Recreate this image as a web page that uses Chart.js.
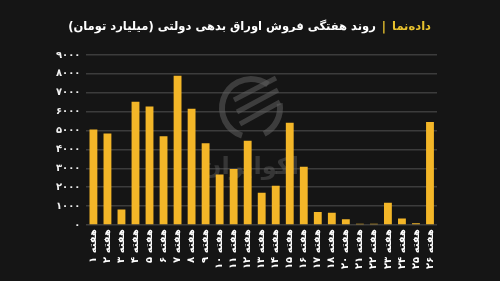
<!DOCTYPE html>
<html>
<head>
<meta charset="utf-8">
<script src="https://cdn.jsdelivr.net/npm/chart.js@4"></script>
<style>
html,body{margin:0;padding:0;background:#151515;}
#wrap{width:500px;height:281px;position:relative;}
</style>
</head>
<body>
<div id="wrap"><canvas id="c" width="500" height="281"></canvas></div>
<script>
const weeks = ['۱','۲','۳','۴','۵','۶','۷','۸','۹','۱۰','۱۱','۱۲','۱۳','۱۴','۱۵','۱۶','۱۷','۱۸','۲۰','۲۱','۲۲','۲۳','۲۴','۲۵','۲۶'];
const categories = weeks.map(w => 'هفته ' + w);
const sales = [5060, 4850, 820, 6520, 6280, 4700, 7900, 6150, 4330, 2670, 2960, 4460, 1710, 2080, 5420, 3080, 690, 650, 300, 70, 70, 1180, 350, 90, 5460];
const yTicks = [0, 1000, 2000, 3000, 4000, 5000, 6000, 7000, 8000, 9000];
const brand = 'داده‌نما';
const titleText = 'روند هفتگی فروش اوراق بدهی دولتی (میلیارد تومان)';

const fa = d => String(d).replace(/[0-9]/g, c => '۰۱۲۳۴۵۶۷۸۹'[+c]);
const FONT = 'DejaVu Sans';

const deco = {
  id: 'deco',
  beforeDraw(chart) {
    const ctx = chart.ctx;
    ctx.save();
    ctx.fillStyle = '#151515';
    ctx.fillRect(0, 0, chart.width, chart.height);
    ctx.restore();
  },
  beforeDatasetsDraw(chart) {
    const ctx = chart.ctx;
    ctx.save();
    ctx.strokeStyle = 'rgba(95,95,95,0.55)';
    ctx.lineWidth = 6;
    ctx.beginPath();
    ctx.arc(251, 108, 29, Math.PI * 0.6, Math.PI * 1.7);
    ctx.stroke();
    ctx.beginPath();
    ctx.arc(251, 108, 29, Math.PI * 1.95, Math.PI * 2.35);
    ctx.stroke();
    ctx.lineWidth = 5;
    for (let i = 0; i < 3; i++) {
      ctx.beginPath();
      ctx.moveTo(234 + i * 3, 100 + i * 12);
      ctx.lineTo(276 + i * 2, 78 + i * 12);
      ctx.stroke();
    }
    ctx.fillStyle = 'rgba(95,95,95,0.45)';
    ctx.font = 'bold 24px ' + FONT;
    ctx.textAlign = 'center';
    ctx.textBaseline = 'middle';
    ctx.direction = 'rtl';
    ctx.fillText('اکوایران', 250, 168);
    ctx.restore();
  },
  afterDraw(chart) {
    const ctx = chart.ctx;
    ctx.save();
    ctx.direction = 'rtl';
    ctx.textBaseline = 'middle';
    ctx.textAlign = 'right';
    const right = 431, target = 361, gap = 6;
    let size = 14;
    const total = s => {
      ctx.font = 'bold ' + s + 'px ' + FONT;
      return ctx.measureText(brand).width + ctx.measureText('|').width + ctx.measureText(titleText).width + gap * 2;
    };
    size = size * target / total(size);
    ctx.font = 'bold ' + size + 'px ' + FONT;
    let x = right;
    const y = 27;
    ctx.fillStyle = '#E8C22E';
    ctx.fillText(brand, x, y);
    x -= ctx.measureText(brand).width + gap;
    ctx.fillText('|', x, y);
    x -= ctx.measureText('|').width + gap;
    ctx.fillStyle = '#ffffff';
    ctx.fillText(titleText, x, y);
    ctx.restore();
  }
};

new Chart(document.getElementById('c'), {
  type: 'bar',
  data: {
    labels: categories,
    datasets: [{
      data: sales,
      backgroundColor: '#F3B628',
      barPercentage: 0.56,
      categoryPercentage: 1.0
    }]
  },
  options: {
    responsive: false,
    animation: false,
    devicePixelRatio: 1,
    layout: { padding: { top: 55, left: 50, right: 63, bottom: 8 } },
    plugins: { legend: { display: false }, tooltip: { enabled: false } },
    scales: {
      x: {
        grid: { display: false, drawTicks: false },
        border: { display: false },
        ticks: {
          color: '#ffffff',
          font: { family: FONT, size: 10, weight: 'bold' },
          maxRotation: 90, minRotation: 90,
          autoSkip: false,
          padding: 4
        }
      },
      y: {
        min: 0, max: 9000,
        afterBuildTicks: axis => { axis.ticks = yTicks.map(v => ({ value: v })); },
        grid: { color: '#3c3c3c', lineWidth: 1.5, drawTicks: false },
        border: { display: false },
        ticks: {
          color: '#f0f0f0',
          font: { family: FONT, size: 10, weight: 'bold' },
          padding: 6,
          callback: v => fa(v)
        }
      }
    }
  },
  plugins: [deco]
});
</script>
</body>
</html>
